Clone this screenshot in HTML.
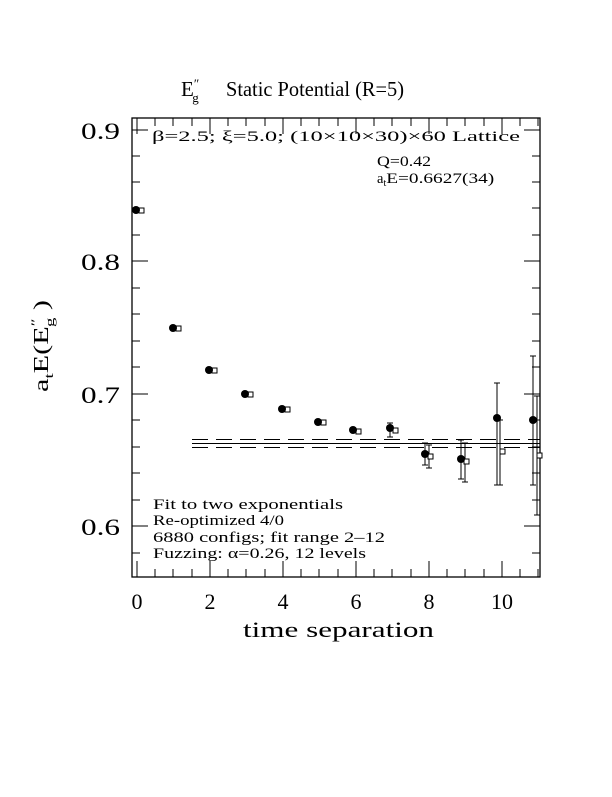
<!DOCTYPE html>
<html><head><meta charset="utf-8"><style>body{margin:0;background:#fff}</style></head><body>
<svg width="612" height="792" xmlns="http://www.w3.org/2000/svg" font-family="Liberation Serif, serif">
<rect width="612" height="792" fill="#fff"/>
<text x="181" y="96" font-size="21">E<tspan font-size="13" dy="-8">″</tspan><tspan font-size="13" dx="-7" dy="14">g</tspan></text>
<text x="226" y="96" font-size="21" textLength="178" lengthAdjust="spacingAndGlyphs">Static Potential (R=5)</text>
<rect x="132" y="118" width="408" height="459" fill="none" stroke="#000" stroke-width="1.3"/>
<g stroke="#000" stroke-width="1">
<path d="M137,577v-16M210,577v-16M283,577v-16M356,577v-16M429,577v-16M502,577v-16M137,118v16M210,118v16M283,118v16M356,118v16M429,118v16M502,118v16
M155,577v-8M173,577v-8M192,577v-8M228,577v-8M246,577v-8M265,577v-8M301,577v-8M319,577v-8M338,577v-8M374,577v-8M392,577v-8M411,577v-8M447,577v-8M465,577v-8M484,577v-8M520,577v-8M538,577v-8
M155,118v8M173,118v8M192,118v8M228,118v8M246,118v8M265,118v8M301,118v8M319,118v8M338,118v8M374,118v8M392,118v8M411,118v8M447,118v8M465,118v8M484,118v8M520,118v8M538,118v8
M132,130h16M132,261h16M132,394h16M132,526h16M540,130h-16M540,261h-16M540,394h-16M540,526h-16
M132,156h8M132,182h8M132,208h8M132,235h8M132,288h8M132,314h8M132,341h8M132,367h8M132,420h8M132,447h8M132,473h8M132,500h8M132,553h8
M540,156h-8M540,182h-8M540,208h-8M540,235h-8M540,288h-8M540,314h-8M540,341h-8M540,367h-8M540,420h-8M540,447h-8M540,473h-8M540,500h-8M540,553h-8"/>
<path d="M192,443.5H540"/>
<path d="M192,439.5H540M192,447.5H540" stroke-dasharray="16,8"/>
</g>
<g font-size="23"><text x="81" y="139" textLength="39" lengthAdjust="spacingAndGlyphs">0.9</text><text x="81" y="270" textLength="39" lengthAdjust="spacingAndGlyphs">0.8</text><text x="81" y="403" textLength="39" lengthAdjust="spacingAndGlyphs">0.7</text><text x="81" y="535" textLength="39" lengthAdjust="spacingAndGlyphs">0.6</text></g>
<g font-size="22" text-anchor="middle"><text x="137" y="609">0</text><text x="210" y="609">2</text><text x="283" y="609">4</text><text x="356" y="609">6</text><text x="429" y="609">8</text><text x="502" y="609">10</text></g>
<text x="243" y="637" font-size="22" textLength="191" lengthAdjust="spacingAndGlyphs">time separation</text>
<text transform="translate(48,392) rotate(-90)" font-size="21" textLength="92" lengthAdjust="spacingAndGlyphs">a<tspan font-size="13" dy="5">t</tspan><tspan dy="-5">E(E</tspan><tspan font-size="13" dy="-8">″</tspan><tspan font-size="13" dx="-6" dy="14">g</tspan><tspan dy="-6"> )</tspan></text>
<g font-size="14.5">
<text x="152" y="141" textLength="368" lengthAdjust="spacingAndGlyphs">β=2.5; ξ=5.0; (10×10×30)×60 Lattice</text>
<text x="377" y="166" textLength="54" lengthAdjust="spacingAndGlyphs">Q=0.42</text>
<text x="377" y="183">a<tspan font-size="10" dy="3">t</tspan><tspan dy="-3" textLength="108" lengthAdjust="spacingAndGlyphs">E=0.6627(34)</tspan></text>
<text x="153" y="509" textLength="190" lengthAdjust="spacingAndGlyphs">Fit to two exponentials</text>
<text x="153" y="525" textLength="131" lengthAdjust="spacingAndGlyphs">Re-optimized 4/0</text>
<text x="153" y="542" textLength="232" lengthAdjust="spacingAndGlyphs">6880 configs; fit range 2–12</text>
<text x="153" y="558" textLength="213" lengthAdjust="spacingAndGlyphs">Fuzzing: α=0.26, 12 levels</text>
</g>
<g stroke="#000" stroke-width="1" fill="#fff">
<path d="M390,423v14M387,423h6M387,437h6 M425,443v22M422,443h6M422,465h6 M461,440v39M458,440h6M458,479h6 M497,383v102M494,383h6M494,485h6 M533,356v129M530,356h6M530,485h6"/>
<path d="M429,445v23M426,445h6M426,468h6 M465,443v39M462,443h6M462,482h6 M500,420v65M497,420h6M497,485h6 M537,396v119M534,396h6M534,515h6"/>
<rect x="139" y="208" width="5" height="5"/><rect x="176" y="326" width="5" height="5"/><rect x="212" y="368" width="5" height="5"/><rect x="248" y="392" width="5" height="5"/><rect x="285" y="407" width="5" height="5"/><rect x="321" y="420" width="5" height="5"/><rect x="356" y="429" width="5" height="5"/><rect x="393" y="428" width="5" height="5"/><rect x="428" y="454" width="5" height="5"/><rect x="464" y="459" width="5" height="5"/><rect x="500" y="449" width="5" height="5"/><rect x="537" y="453" width="5" height="5"/>
</g>
<g fill="#000">
<circle cx="136" cy="210" r="4"/><circle cx="173" cy="328" r="4"/><circle cx="209" cy="370" r="4"/><circle cx="245" cy="394" r="4"/><circle cx="282" cy="409" r="4"/><circle cx="318" cy="422" r="4"/><circle cx="353" cy="430" r="4"/><circle cx="390" cy="428" r="4"/><circle cx="425" cy="454" r="4"/><circle cx="461" cy="459" r="4"/><circle cx="497" cy="418" r="4"/><circle cx="533" cy="420" r="4"/>
</g>
</svg>
</body></html>
